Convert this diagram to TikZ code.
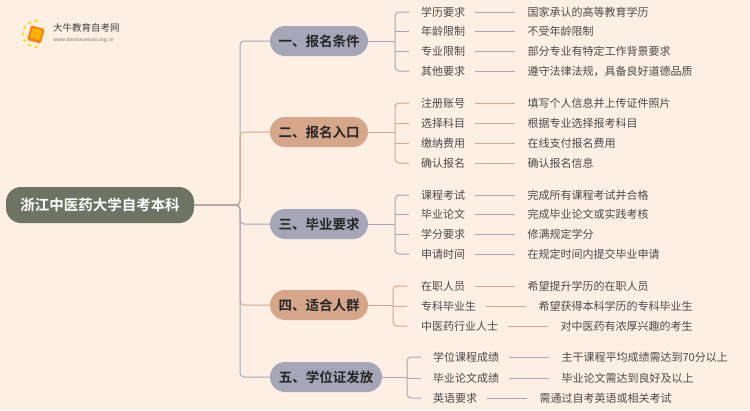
\documentclass[tikz,border=0pt]{standalone}
\usepackage{fontspec}
\setmainfont{Noto Sans CJK SC}
\newfontfamily\cjkb{Noto Sans CJK SC Bold}
\usetikzlibrary{positioning,calc}
\definecolor{bg}{HTML}{FDEFE3}
\definecolor{cA}{HTML}{A5A6B8}
\definecolor{cB}{HTML}{D6A68A}
\definecolor{rootc}{HTML}{6D7464}
\definecolor{txt}{HTML}{4A4A4A}
\tikzset{
 rootbox/.style={rounded corners=15pt,fill=rootc,text=white,font=\cjkb\fontsize{14.5}{16}\selectfont,minimum width=188pt,minimum height=36pt,inner sep=0pt},
 branchbox/.style={rounded corners=15pt,minimum width=98pt,minimum height=30pt,inner sep=0pt,font=\cjkb\fontsize{13.5}{15}\selectfont,text=black!85},
 leaf/.style={anchor=west,inner sep=0pt,font=\fontsize{11}{12}\selectfont,text=txt},
 val/.style={anchor=west,inner sep=0pt,font=\fontsize{11}{12}\selectfont,text=txt},
}
\begin{document}
\begin{tikzpicture}[x=1pt,y=-1pt]
\fill[bg] (0,0) rectangle (750,410);
\useasboundingbox (0,0) rectangle (750,410);
% logo
\foreach \a in {0,30,...,180}{\fill[yellow!80!orange] ($(36,34)+(\a+90:13)$) circle (1.6);}
\fill[orange,rounded corners=1.5pt,rotate around={-15:(36,34)}] (29,27) rectangle (43,42);
\fill[orange!60!yellow,rotate around={-15:(36,34)}] (31,29) rectangle (41,39);
\node[anchor=west,inner sep=0pt,font=\fontsize{9.5}{10}\selectfont,text=black!75] (logo) at (53,28) {大牛教育自考网};
\node[anchor=west,inner sep=0pt,font=\fontsize{5}{6}\selectfont,text=black!55] (url) at (53,40) {www.daniuxuexiao.org.cn};
\node[rootbox] (root) at (100,205) {浙江中医药大学自考本科};
% branches
\def\bx{319}
\node[branchbox,fill=cA] (b1) at (\bx,41) {一、报名条件};
\node[branchbox,fill=cB] (b2) at (\bx,132) {二、报名入口};
\node[branchbox,fill=cA] (b3) at (\bx,224) {三、毕业要求};
\node[branchbox,fill=cB] (b4) at (\bx,305) {四、适合人群};
\node[branchbox,fill=cA,minimum width=112pt] (b5) at (326,377) {五、学位证发放};
\foreach \b/\c in {b1/cA,b2/cB,b3/cA,b4/cB,b5/cA}{
 \draw[\c,line width=1pt,rounded corners=4pt] (root.east) -- (240,205) |- (\b.west);}
\newcommand{\myleaf}[6]{% name, color, bracket x, y, label, value
 \node[leaf] (#1l) at (#3+26,#4) {#5};
 \node[val] (#1v) at ($(#1l.east)+(62,0)$) {#6};
 \draw[#2,line width=0.8pt] ($(#1l.east)+(10,0)$) -- ($(#1v.west)+(-12,0)$);
}
\newcommand{\mybranch}[5]{% node, color, bracket x, ytop, ybottom
 \draw[#2,line width=1pt] (#1.east) -- (#3,0|-#1.east);
 \draw[#2,line width=1pt,rounded corners=4pt] (#3+14,#4) -- (#3,#4) -- (#3,#5) -- (#3+14,#5);
}
\newcommand{\mytick}[4]{\draw[#1,line width=1pt] (#2,#3) -- (#2+14,#3);}
% branch 1
\mybranch{b1}{cA}{395}{12}{71}
\mytick{cA}{395}{31}{} \mytick{cA}{395}{51}{}
\myleaf{a1}{cA}{395}{12}{学历要求}{国家承认的高等教育学历}
\myleaf{a2}{cA}{395}{31}{年龄限制}{不受年龄限制}
\myleaf{a3}{cA}{395}{51}{专业限制}{部分专业有特定工作背景要求}
\myleaf{a4}{cA}{395}{71}{其他要求}{遵守法律法规，具备良好道德品质}
% branch 2
\mybranch{b2}{cB}{395}{103}{163}
\mytick{cB}{395}{123}{} \mytick{cB}{395}{143}{}
\myleaf{c1}{cB}{395}{103}{注册账号}{填写个人信息并上传证件照片}
\myleaf{c2}{cB}{395}{123}{选择科目}{根据专业选择报考科目}
\myleaf{c3}{cB}{395}{143}{缴纳费用}{在线支付报名费用}
\myleaf{c4}{cB}{395}{163}{确认报名}{确认报名信息}
% branch 3
\mybranch{b3}{cA}{395}{195}{254}
\mytick{cA}{395}{214}{} \mytick{cA}{395}{234}{}
\myleaf{d1}{cA}{395}{195}{课程考试}{完成所有课程考试并合格}
\myleaf{d2}{cA}{395}{214}{毕业论文}{完成毕业论文或实践考核}
\myleaf{d3}{cA}{395}{234}{学分要求}{修满规定学分}
\myleaf{d4}{cA}{395}{254}{申请时间}{在规定时间内提交毕业申请}
% branch 4
\mybranch{b4}{cB}{393}{286}{326}
\mytick{cB}{393}{306}{}
\myleaf{e1}{cB}{395}{286}{在职人员}{希望提升学历的在职人员}
\myleaf{e2}{cB}{395}{306}{专科毕业生}{希望获得本科学历的专科毕业生}
\myleaf{e3}{cB}{395}{326}{中医药行业人士}{对中医药有浓厚兴趣的考生}
% branch 5
\mybranch{b5}{cA}{407}{357}{398}
\mytick{cA}{407}{378}{}
\myleaf{f1}{cA}{407}{357}{学位课程成绩}{主干课程平均成绩需达到70分以上}
\myleaf{f2}{cA}{407}{378}{毕业论文成绩}{毕业论文需达到良好及以上}
\myleaf{f3}{cA}{407}{398}{英语要求}{需通过自考英语或相关考试}
\end{tikzpicture}
\end{document}
